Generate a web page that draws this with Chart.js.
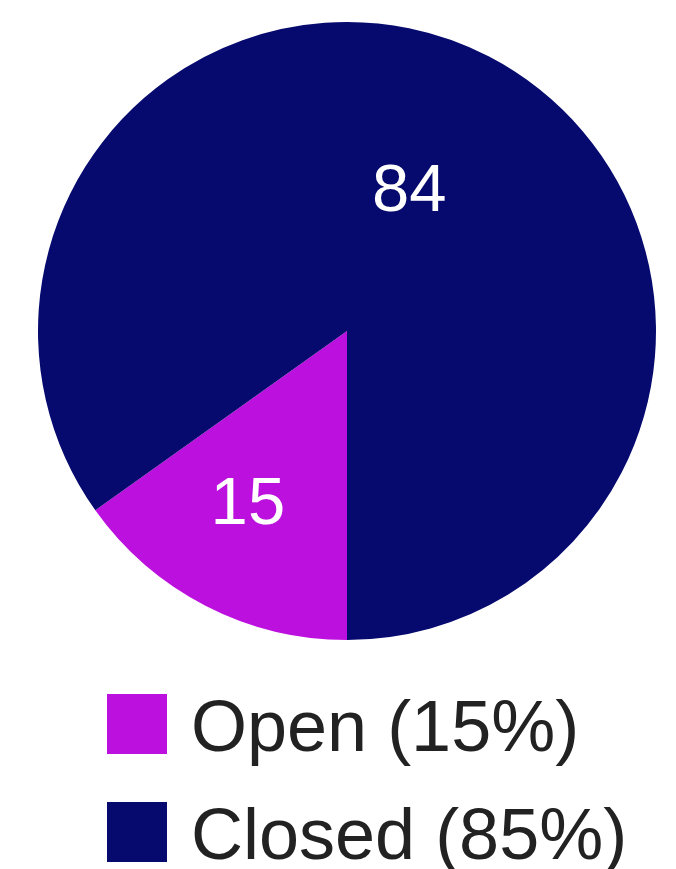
<!DOCTYPE html>
<html>
<head>
<meta charset="utf-8">
<script src="https://cdn.jsdelivr.net/npm/chart.js@4/dist/chart.umd.min.js"></script>
<style>
    html, body { margin: 0; padding: 0; background: #ffffff; }
    #wrap { width: 676px; height: 869px; position: relative; }
</style>
</head>
<body>
<div id="wrap"><canvas id="statusChart"></canvas></div>
<script>
// Chart data
const categories = ["Open", "Closed"];
const counts = [15, 84];
const percentLabels = ["15%", "85%"];
const sliceColors = ["#bc10de", "#060a6e"];

// Draws the count inside each slice
const sliceLabels = {
    id: "sliceLabels",
    afterDatasetsDraw(chart) {
        const ctx = chart.ctx;
        const meta = chart.getDatasetMeta(0);
        const radFrac = [0.64, 0.5];
        ctx.save();
        ctx.fillStyle = "#ffffff";
        ctx.font = "67px 'Liberation Sans', Arial, sans-serif";
        ctx.textAlign = "center";
        ctx.textBaseline = "alphabetic";
        meta.data.forEach((arc, i) => {
            const p = arc.getProps(["x", "y", "startAngle", "endAngle", "outerRadius"], true);
            const mid = (p.startAngle + p.endAngle) / 2;
            const r = p.outerRadius * radFrac[i];
            // small nudge so the text sits where the original put it
            const x = p.x + Math.cos(mid) * r - 8.5;
            const y = p.y + Math.sin(mid) * r - 7;
            ctx.fillText(String(counts[i]), x, y + 67 * 0.36);
        });
        ctx.restore();
    }
};

// Legend stacked under the pie, left aligned
const stackedLegend = {
    id: "stackedLegend",
    afterDraw(chart) {
        const ctx = chart.ctx;
        const boxX = 107, topY = 694, rowGap = 108, box = 60;
        ctx.save();
        ctx.font = "72px 'Liberation Sans', Arial, sans-serif";
        ctx.textBaseline = "alphabetic";
        ctx.textAlign = "left";
        categories.forEach((name, i) => {
            const y = topY + i * rowGap;
            ctx.fillStyle = sliceColors[i];
            ctx.fillRect(boxX, y, box, box);
            ctx.fillStyle = "#222222";
            ctx.fillText(`${name} (${percentLabels[i]})`, boxX + box + 24, y + 57);
        });
        ctx.restore();
    }
};

const ctx = document.getElementById("statusChart").getContext("2d");
const statusChart = new Chart(ctx, {
    type: "pie",
    data: {
        labels: categories,
        datasets: [{
            data: counts,
            backgroundColor: sliceColors,
            borderWidth: 0,
            hoverBorderWidth: 0,
            hoverOffset: 0
        }]
    },
    options: {
        responsive: true,
        maintainAspectRatio: false,
        animation: false,
        rotation: 180,
        layout: {
            padding: { left: 38, right: 20, top: 22, bottom: 229 }
        },
        plugins: {
            legend: { display: false },
            tooltip: { enabled: false }
        }
    },
    plugins: [sliceLabels, stackedLegend]
});
</script>
</body>
</html>
